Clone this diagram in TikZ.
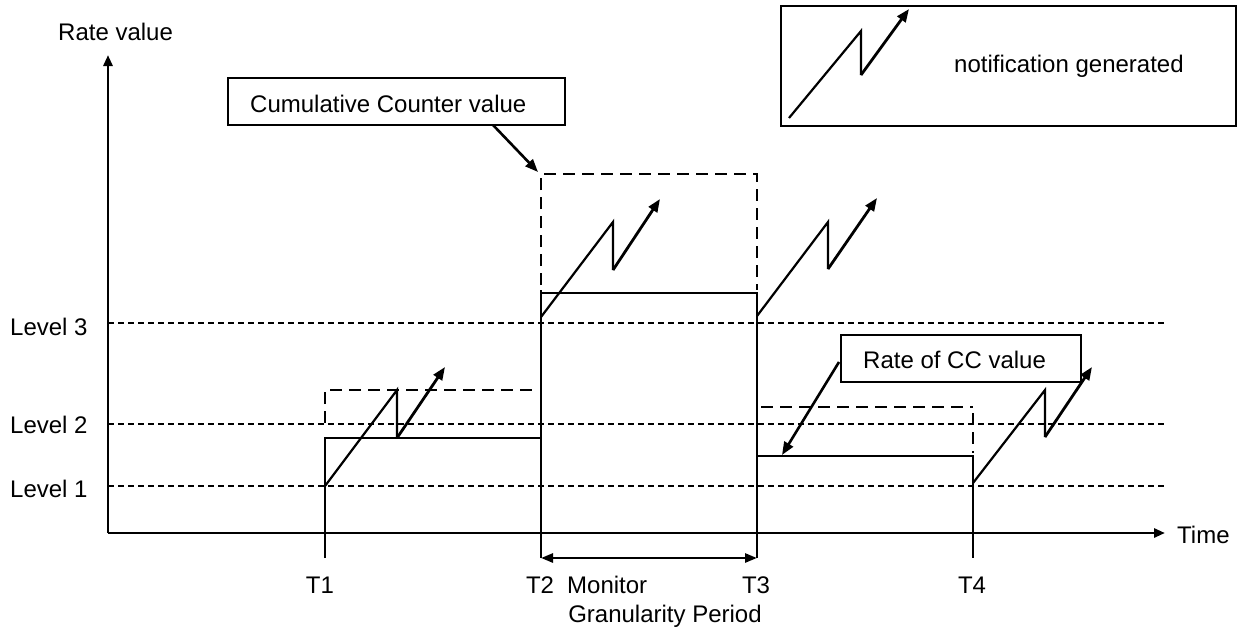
\documentclass[tikz,border=0pt]{standalone}
\usepackage{fontspec}
\setmainfont{Liberation Sans}
\usetikzlibrary{arrows.meta}
\begin{document}
\begin{tikzpicture}[x=1pt,y=-1pt,
  lbl/.style={inner sep=0pt, anchor=base west, font=\fontsize{24}{28}\selectfont},
  lblc/.style={inner sep=0pt, anchor=base, font=\fontsize{24}{28}\selectfont},
  rline/.style={line width=2.3pt},
  axis/.style={line width=2.8pt, -{Triangle[length=11pt,width=9pt]}},
  levelline/.style={line width=1.7pt, dash pattern=on 6pt off 4pt},
  ccdash/.style={line width=2.3pt, dash pattern=on 12pt off 7pt},
  arr/.style={line width=2.8pt, -{Triangle[length=13pt,width=10pt]}},
  dblarr/.style={line width=2.6pt, {Triangle[length=12pt,width=9pt]}-{Triangle[length=12pt,width=9pt]}},
  zig/.style={line width=2.2pt, line join=miter},
  box/.style={draw, line width=2.3pt, inner sep=0pt},
]
\useasboundingbox (0,0) rectangle (1240,632);

% axes
\coordinate (O) at (108,533);
\coordinate (ytop) at (108,55);
\coordinate (xend) at (1165,533);
\draw[axis] (O) -- (ytop);
\draw[axis] (O) -- (xend);
\node[lbl] (ratevalue) at (58,40) {Rate value};
\node[lbl] (time) at (1177,543) {Time};

% levels
\coordinate (l3a) at (108,323); \coordinate (l3b) at (1167,323);
\coordinate (l2a) at (108,424); \coordinate (l2b) at (1167,424);
\coordinate (l1a) at (108,486); \coordinate (l1b) at (1167,486);
\draw[levelline] (l3a) -- (l3b);
\draw[levelline] (l2a) -- (l2b);
\draw[levelline] (l1a) -- (l1b);
\node[lbl] (lev3) at (10,335) {Level 3};
\node[lbl] (lev2) at (10,433) {Level 2};
\node[lbl] (lev1) at (10,497) {Level 1};

% rate (solid) line
\draw[rline] (325,558) -- (325,438) -- (541,438);
\draw[rline] (541,558) -- (541,290) -- (541,293) -- (757,293) -- (757,558);
\draw[rline] (757,456) -- (973,456) -- (973,558);

% cumulative counter (dashed)
\draw[ccdash] (325,423) -- (325,390) -- (538,390);
\draw[ccdash] (541,285) -- (541,174) -- (757,174) -- (757,290);
\draw[ccdash] (761,407) -- (973,407);
\draw[ccdash] (973,413) -- (973,453);

% zigzags
\coordinate (a1) at (325,486); \coordinate (a2) at (397,390); \coordinate (a3) at (397,438); \coordinate (a4) at (445,367);
\draw[zig] (a1) -- (a2) -- (a3);
\draw[arr] (a3) -- (a4);
\coordinate (b1) at (541,317); \coordinate (b2) at (613,222); \coordinate (b3) at (613,270); \coordinate (b4) at (660,199);
\draw[zig] (b1) -- (b2) -- (b3);
\draw[arr] (b3) -- (b4);
\coordinate (c1) at (757,316); \coordinate (c2) at (828,222); \coordinate (c3) at (828,269); \coordinate (c4) at (877,198);
\draw[zig] (c1) -- (c2) -- (c3);
\draw[arr] (c3) -- (c4);
\coordinate (d1) at (973,483); \coordinate (d2) at (1045,390); \coordinate (d3) at (1045,437); \coordinate (d4) at (1092,367);
\draw[zig] (d1) -- (d2) -- (d3);
\draw[arr] (d3) -- (d4);

% time labels
\node[lblc] (t1) at (320,593) {T1};
\node[lblc] (t2) at (540,593) {T2};
\node[lblc] (t3) at (756,593) {T3};
\node[lblc] (t4) at (972,593) {T4};
\node[lbl] (monitor) at (567,593) {Monitor};
\node[lblc] (gran) at (665,622) {Granularity Period};
\coordinate (g1) at (541,558); \coordinate (g2) at (757,558);
\draw[dblarr] (g1) -- (g2);

% Cumulative counter box
\node[box, minimum width=337pt, minimum height=47pt] (ccbox) at (396.5,101.5) {};
\node[lbl] (cctext) at (250,112) {Cumulative Counter value};
\coordinate (ccs) at (493,125); \coordinate (cce) at (538,172);
\draw[arr, line width=2.6pt] (ccs) -- (cce);

% Rate of CC box
\node[box, minimum width=240pt, minimum height=47pt] (rbox) at (961,358.5) {};
\node[lbl] (rtext) at (863,368) {Rate of CC value};
\coordinate (rs) at (839,362); \coordinate (re) at (782,455);
\draw[arr, line width=2.6pt] (rs) -- (re);

% Legend
\node[box, minimum width=455pt, minimum height=120pt] (legend) at (1008.5,66) {};
\coordinate (e1) at (789,118); \coordinate (e2) at (861,31); \coordinate (e3) at (861,75); \coordinate (e4) at (909,9);
\draw[zig] (e1) -- (e2) -- (e3);
\draw[arr] (e3) -- (e4);
\node[lbl] (legtext) at (954,72) {notification generated};
\end{tikzpicture}
\end{document}
